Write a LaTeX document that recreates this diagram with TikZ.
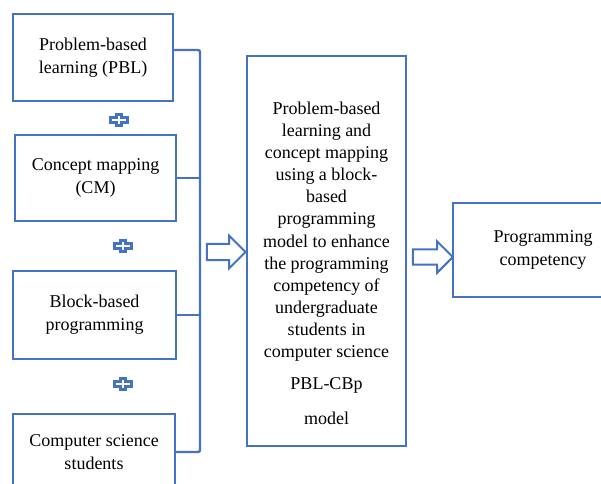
\documentclass[tikz,border=0pt]{standalone}
\usepackage{fontspec}
\setmainfont{Liberation Serif}
\usetikzlibrary{shapes.arrows}
\definecolor{PblBlue}{RGB}{68,114,196}
\tikzset{
  pbl/box/.style={
    draw=PblBlue,
    line width=1.8pt,
    fill=white,
    align=center,
    text=black,
    inner sep=2pt,
    font=\fontsize{13.5}{17.5}\selectfont
  },
  pbl/label/.style={align=center, text=black, font=\fontsize{13.5}{16.6}\selectfont},
  pbl/bracket/.style={draw=PblBlue, line width=1.8pt, rounded corners=1.5pt},
  pbl/blockarrow/.style={
    single arrow,
    draw=PblBlue,
    line width=1.5pt,
    fill=white,
    inner xsep=0pt,
    inner ysep=5.4pt,
    minimum height=29pt,
    single arrow head extend=6pt
  },
  pbl/plus/.style={draw=PblBlue, line width=2.1pt, fill=white}
}
\begin{document}
\begin{tikzpicture}[x=0.75pt,y=-0.75pt]
  \useasboundingbox (0,0) rectangle (601,483);

  % inputs on the left
  \node[pbl/box,minimum width=120pt,minimum height=65pt] (pbl) at (93,57.5) {Problem-based\\learning (PBL)};
  \node[pbl/box,minimum width=120.5pt,minimum height=64.5pt] (cm) at (95.5,178) {Concept mapping\\(CM)};
  \node[pbl/box,minimum width=122pt,minimum height=66pt] (bbp) at (94.5,315) {Block-based\\programming};
  \node[pbl/box,minimum width=121.5pt,minimum height=57pt] (css) at (94,452) {Computer science\\students};

  % plus signs between the inputs
  \foreach \px/\py in {119/120, 123/246, 123/384}
    \draw[pbl/plus,shift={(\px,\py)}] (-8.5,-2.5) -- (-2.5,-2.5) -- (-2.5,-5.5) -- (2.5,-5.5) -- (2.5,-2.5) -- (8.5,-2.5)
      -- (8.5,2.5) -- (2.5,2.5) -- (2.5,5.5) -- (-2.5,5.5) -- (-2.5,2.5) -- (-8.5,2.5) -- cycle;

  % bracket joining the inputs
  \coordinate (top) at (200,50);
  \coordinate (bot) at (200,452);
  \draw[pbl/bracket] (pbl.east |- top) -- (top) -- (bot) -- (css.east);
  \draw[pbl/bracket] (cm.east) -- (cm.east -| top);
  \draw[pbl/bracket] (bbp.east) -- (bbp.east -| top);

  % model in the middle
  \node[pbl/box,minimum width=119pt,minimum height=292.5pt] (model) at (326.5,251) {};
  \node[pbl/label] (modeltext) at (326.5,263) {Problem-based\\learning and\\concept mapping\\using a block-\\based\\programming\\model to enhance\\the programming\\competency of\\undergraduate\\students in\\computer science\\[7pt]PBL-CBp\\[9.5pt]model};

  % outcome on the right
  \node[pbl/box,minimum width=135pt,minimum height=70.5pt] (goal) at (543,250) {Programming\\competency};

  \node[pbl/blockarrow] (arr1) at (222,252) {};
  \node[pbl/blockarrow,minimum height=30pt,inner ysep=5pt] (arr2) at (429,257) {};
\end{tikzpicture}
\end{document}
